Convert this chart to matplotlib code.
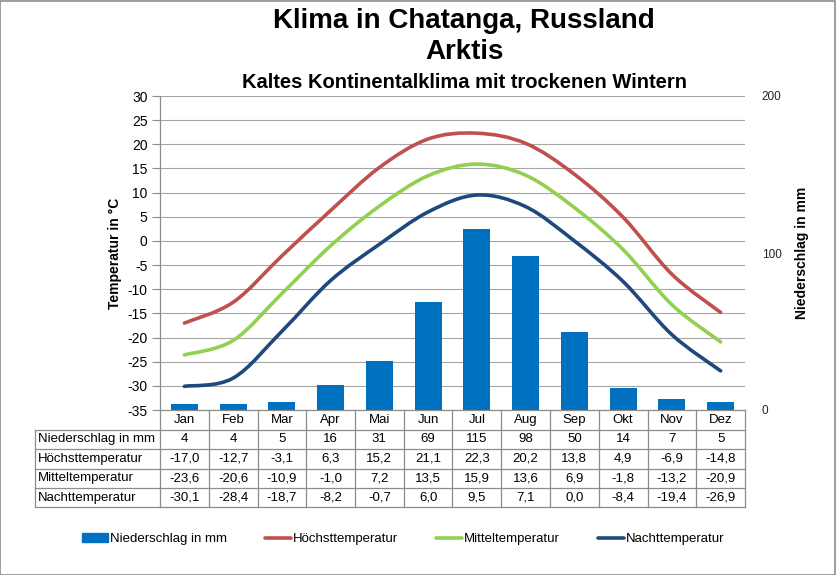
import numpy as np
import matplotlib
matplotlib.use("Agg")
import matplotlib.pyplot as plt
from matplotlib.path import Path
from matplotlib.patches import PathPatch, Rectangle
from matplotlib.lines import Line2D

plt.rcParams['font.family'] = ['Liberation Sans', 'DejaVu Sans']
plt.rcParams['axes.unicode_minus'] = False

months = ["Jan", "Feb", "Mar", "Apr", "Mai", "Jun", "Jul", "Aug", "Sep", "Okt", "Nov", "Dez"]
niederschlag = [4, 4, 5, 16, 31, 69, 115, 98, 50, 14, 7, 5]
hoechst = [-17.0, -12.7, -3.1, 6.3, 15.2, 21.1, 22.3, 20.2, 13.8, 4.9, -6.9, -14.8]
mittel = [-23.6, -20.6, -10.9, -1.0, 7.2, 13.5, 15.9, 13.6, 6.9, -1.8, -13.2, -20.9]
nacht = [-30.1, -28.4, -18.7, -8.2, -0.7, 6.0, 9.5, 7.1, 0.0, -8.4, -19.4, -26.9]
temp_ticks = list(range(-35, 31, 5))
precip_ticks = [0, 100, 200]

W, H = 836, 575
fig = plt.figure(figsize=(W / 100, H / 100), dpi=100)


def fx(x):
    return x / W


def fy(y):
    return 1 - y / H


L, R, T, B = 160, 745, 96, 410
ax = fig.add_axes([fx(L), fy(B), (R - L) / W, (B - T) / H])
ax.set_xlim(-0.5, 11.5)
ax.set_ylim(-35, 30)
ax.set_yticks(temp_ticks)
ax.set_xticks([])
for s in ["top", "right", "bottom"]:
    ax.spines[s].set_visible(False)
ax.spines["left"].set_color("#8c8c8c")
ax.spines["left"].set_linewidth(0.9)
ax.tick_params(axis="y", length=6, color="#8c8c8c", labelsize=10, pad=3)
ax.yaxis.grid(True, color="#a6a6a6", linewidth=0.8)
ax.set_axisbelow(True)
ax.set_ylabel("Temperatur in °C", fontsize=10, fontweight="bold", labelpad=4)

ax2 = ax.twinx()
ax2.set_ylim(0, 200)
ax2.set_yticks(precip_ticks)
for s in ax2.spines.values():
    s.set_visible(False)
ax2.tick_params(axis="y", length=0, labelsize=8.5, pad=12, labelcolor="#222222")
ax2.set_ylabel("Niederschlag in mm", fontsize=10, fontweight="bold", labelpad=10)
ax2.patch.set_visible(False)

x = np.arange(12)
ax2.bar(x, niederschlag, width=0.55, color="#0070C0", zorder=2)


def smooth_path(xs, ys):
    pts = np.column_stack([xs, ys]).astype(float)
    n = len(pts)
    verts = [pts[0]]
    codes = [Path.MOVETO]
    for i in range(n - 1):
        p0 = pts[i - 1] if i > 0 else pts[i]
        p1 = pts[i]
        p2 = pts[i + 1]
        p3 = pts[i + 2] if i + 2 < n else pts[i + 1]
        c1 = p1 + (p2 - p0) / 6.0
        c2 = p2 - (p3 - p1) / 6.0
        verts += [c1, c2, p2]
        codes += [Path.CURVE4] * 3
    return Path(verts, codes)


series = [(hoechst, "#C0504D", "Höchsttemperatur"),
          (mittel, "#92D050", "Mitteltemperatur"),
          (nacht, "#1F497D", "Nachttemperatur")]
for vals, col, lab in series:
    patch = PathPatch(smooth_path(x, vals), facecolor="none", edgecolor=col,
                      linewidth=2.6, transform=ax.transData, zorder=3,
                      capstyle="round", joinstyle="round")
    ax2.add_patch(patch)

# Titles
tx = fx(464)
fig.text(tx, fy(21), "Klima in Chatanga, Russland", ha="center", va="center",
         fontsize=20, fontweight="bold")
fig.text(tx, fy(52), "Arktis", ha="center", va="center",
         fontsize=20, fontweight="bold")
fig.text(tx, fy(83), "Kaltes Kontinentalklima mit trockenen Wintern", ha="center", va="center",
         fontsize=14.5, fontweight="bold")

# Data table
col_w = (R - L) / 12
row_y = [410, 429.5, 449, 468.5, 488, 507]
lab_x0 = 35
gc = "#8c8c8c"


def hline(x0, x1, y):
    fig.add_artist(Line2D([fx(x0), fx(x1)], [fy(y), fy(y)], color=gc, linewidth=0.9))


def vline(x, y0, y1):
    fig.add_artist(Line2D([fx(x), fx(x)], [fy(y0), fy(y1)], color=gc, linewidth=0.9))


hline(L, R, row_y[0])
for y in row_y[1:]:
    hline(lab_x0, R, y)
for i in range(13):
    vline(L + i * col_w, row_y[0], row_y[-1])
vline(lab_x0, row_y[1], row_y[-1])


def fmt(v):
    return f"{v:.1f}".replace(".", ",")


rows = [("Niederschlag in mm", [str(v) for v in niederschlag]),
        ("Höchsttemperatur", [fmt(v) for v in hoechst]),
        ("Mitteltemperatur", [fmt(v) for v in mittel]),
        ("Nachttemperatur", [fmt(v) for v in nacht])]
fs = 9.5
for i, m in enumerate(months):
    fig.text(fx(L + (i + 0.5) * col_w), fy((row_y[0] + row_y[1]) / 2), m,
             ha="center", va="center", fontsize=fs)
for r, (lab, vals) in enumerate(rows):
    yc = fy((row_y[r + 1] + row_y[r + 2]) / 2)
    fig.text(fx(lab_x0 + 3), yc, lab, ha="left", va="center", fontsize=fs)
    for i, v in enumerate(vals):
        fig.text(fx(L + (i + 0.5) * col_w), yc, v, ha="center", va="center", fontsize=fs)

# Legend
handles = [Rectangle((0, 0), 1, 1, color="#0070C0")]
labels = ["Niederschlag in mm"]
for vals, col, lab in series:
    handles.append(Line2D([], [], color=col, linewidth=2.6, solid_capstyle="round"))
    labels.append(lab)
fig.legend(handles, labels, loc="center", bbox_to_anchor=(fx(403), fy(539)), ncol=4,
           frameon=False, fontsize=9.5, handlelength=2.0, handleheight=0.6,
           handletextpad=0.15, columnspacing=2.85)

# Outer border
fig.add_artist(Rectangle((0.0005, 0.0008), 0.998, 0.998, transform=fig.transFigure,
                         fill=False, edgecolor="#8c8c8c", linewidth=1.2))

fig.savefig("out.png", dpi=100)
